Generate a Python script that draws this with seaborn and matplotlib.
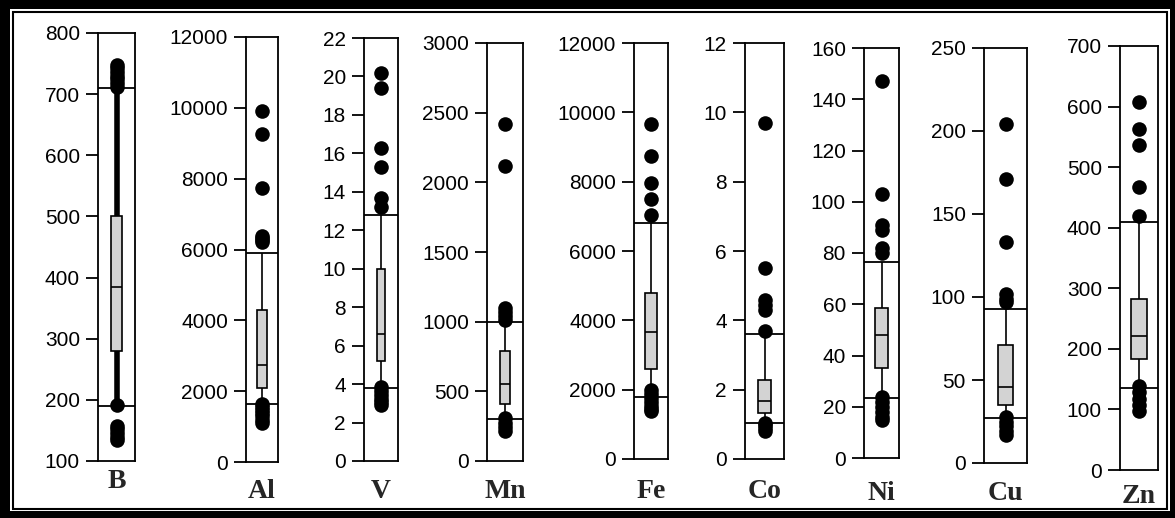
import numpy as np
import pandas as pd
import seaborn as sns
import matplotlib
matplotlib.use("Agg")
from matplotlib import pyplot as plt
from matplotlib.patches import Rectangle

# element names shown under each panel
elements = ["B", "Al", "V", "Mn", "Fe", "Co", "Ni", "Cu", "Zn"]

# box statistics
box_q1 = [280, 2100, 5.2, 410, 2600, 1.33, 35, 35, 184]
box_med = [385, 2750, 6.6, 550, 3650, 1.68, 48, 46, 221]
box_q3 = [500, 4300, 10.0, 790, 4800, 2.29, 58.5, 71, 282]
whisk_lo = [190, 1650, 3.8, 300, 1800, 1.04, 23.4, 27, 136]
whisk_hi = [710, 5900, 12.8, 1000, 6800, 3.6, 76.5, 93, 410]

# outliers
b_out = [748, 742, 736, 730, 724, 718, 712, 192, 158, 152, 146, 140, 135]
al_out = [9900, 9250, 7750, 6380, 6320, 6260, 6200,
          1650, 1560, 1470, 1380, 1290, 1200, 1110]
v_out = [20.2, 19.4, 16.3, 15.3, 13.7, 13.2,
         3.85, 3.65, 3.45, 3.25, 3.05, 2.9]
mn_out = [2420, 2120, 1100, 1070, 1040, 1010, 310, 275, 245, 215]
fe_out = [9650, 8750, 7950, 7500, 7050,
          1980, 1870, 1760, 1650, 1540, 1430, 1380]
co_out = [9.7, 5.5, 4.6, 4.45, 4.3, 3.7, 1.05, 0.97, 0.89, 0.8]
ni_out = [147, 103, 91, 89, 82, 80, 24, 22, 20, 18, 16, 15]
cu_out = [204, 171, 133, 102, 99, 97, 28, 25, 22, 19, 17]
zn_out = [608, 563, 537, 467, 420, 138, 128, 118, 108, 98]
outliers = [b_out, al_out, v_out, mn_out, fe_out, co_out, ni_out, cu_out, zn_out]

# axis ranges and tick steps
y_min = [100, 0, 0, 0, 0, 0, 0, 0, 0]
y_max = [800, 12000, 22, 3000, 12000, 12, 160, 250, 700]
y_step = [100, 2000, 2, 500, 2000, 2, 20, 50, 100]

# panel frames in pixels: left, right, top, bottom
W, H = 1175, 518
frames = [(98, 135, 33, 461), (246, 278, 37, 462), (364, 398, 38, 461),
          (487, 523, 43, 461), (634, 668, 43, 459), (745, 784, 43, 459),
          (864, 899, 48, 458), (984, 1027, 48, 463), (1120, 1158, 46, 470)]
box_w = [0.30, 0.32, 0.25, 0.30, 0.38, 0.34, 0.36, 0.35, 0.44]
label_bottom = [488, 498, 498, 498, 498, 498, 500, 500, 503]

sns.set_style("white")
plt.rcParams["font.family"] = ["Liberation Sans", "DejaVu Sans"]

fig = plt.figure(figsize=(W / 100, H / 100), dpi=100)

# double frame round the whole figure
fig.patches.append(Rectangle((0, 0), 1, 1, transform=fig.transFigure,
                             facecolor="black", edgecolor="none", zorder=-3))
fig.patches.append(Rectangle((10 / W, 1 - 511 / H), 1160 / W, 502 / H,
                             transform=fig.transFigure, facecolor="white",
                             edgecolor="none", zorder=-2))
fig.patches.append(Rectangle((12.5 / W, 1 - 508.5 / H), 1154 / W, 497 / H,
                             transform=fig.transFigure, facecolor="none",
                             edgecolor="black", lw=1.5, zorder=-1))

for i, el in enumerate(elements):
    l, r, t, b = frames[i]
    ax = fig.add_axes([l / W, 1 - b / H, (r - l) / W, (b - t) / H])
    # five values give q1/median/q3 exactly, whiskers at min/max
    vals = [whisk_lo[i], box_q1[i], box_med[i], box_q3[i], whisk_hi[i]]
    wl = 4 if el == "B" else 1.2
    sns.boxplot(y=vals, ax=ax, whis=(0, 100), width=box_w[i], color="#d3d3d3",
                saturation=1, linecolor="black", linewidth=1.2,
                showfliers=False, showcaps=False,
                whiskerprops={"linewidth": wl})
    sns.stripplot(y=outliers[i], ax=ax, jitter=False, color="black",
                  size=10.5, zorder=5)
    ax.axhline(whisk_lo[i], color="black", lw=1.3, zorder=4)
    ax.axhline(whisk_hi[i], color="black", lw=1.3, zorder=4)
    ax.set_xlim(-0.5, 0.5)
    ax.set_ylim(y_min[i], y_max[i])
    ax.set_yticks(np.arange(y_min[i], y_max[i] + y_step[i] / 2, y_step[i]))
    ax.yaxis.set_major_formatter(matplotlib.ticker.FormatStrFormatter("%g"))
    ax.set_xticks([])
    ax.set_ylabel("")
    ax.tick_params(axis="y", left=True, length=9, width=1.3, pad=4,
                   labelsize=15, colors="black")
    for s in ax.spines.values():
        s.set_color("black")
        s.set_linewidth(1.3)
    fig.text((l + r) / 2 / W, 1 - label_bottom[i] / H, el, ha="center",
             va="baseline", fontsize=20, fontweight="bold",
             family=["Liberation Serif", "DejaVu Serif"])

fig.savefig("out.png", dpi=100)
